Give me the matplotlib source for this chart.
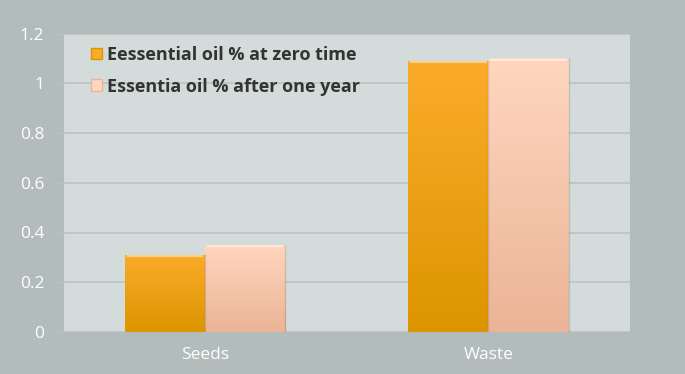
import numpy as np
import matplotlib
matplotlib.use('Agg')
import matplotlib.pyplot as plt
from matplotlib.colors import LinearSegmentedColormap
from matplotlib.patches import Patch

# ── Data ──────────────────────────────────────────────────────────────────────
categories = ["Seeds", "Waste"]
zero_time  = [0.31, 1.09]
one_year   = [0.35, 1.10]
series_names = ["Eessential oil % at zero time", "Essentia oil % after one year"]
yticks = [0, 0.2, 0.4, 0.6, 0.8, 1, 1.2]

OUTER_BG = "#b1bcbb"
PLOT_BG  = "#d3dcdb"
GRID     = "#b8c3c2"
ORANGE   = ("#dc9500", "#fbab2a")   # bottom, top
PEACH    = ("#ebb496", "#ffd6bf")
BAR_W    = 0.283

plt.rcParams['font.family'] = ['Open Sans', 'DejaVu Sans']

fig = plt.figure(figsize=(6.85, 3.74), dpi=100, facecolor=OUTER_BG)
ax = fig.add_axes([63.5 / 685, 1 - 332 / 374, (630 - 63.5) / 685, (332 - 33.5) / 374])
ax.set_facecolor(PLOT_BG)

x = np.arange(len(categories))


def gradient_bars(xpos, heights, colors):
    cmap = LinearSegmentedColormap.from_list("g", list(colors))
    grad = np.linspace(0, 1, 256).reshape(-1, 1)
    bars = ax.bar(xpos, heights, BAR_W, color=colors[1], edgecolor="none", zorder=2)
    for b in bars:
        x0, w, h = b.get_x(), b.get_width(), b.get_height()
        im = ax.imshow(grad, cmap=cmap, origin="lower", aspect="auto",
                       extent=[x0, x0 + w, 0, h], zorder=3)
        im.set_clip_path(b)
        # thin top highlight (bevel) and darker side edges
        ax.plot([x0 + 0.01, x0 + w - 0.01], [h - 0.006, h - 0.006],
                color="white", alpha=0.45, lw=1.5, zorder=4)
        ax.plot([x0 + w, x0 + w], [0, h], color="black", alpha=0.12, lw=1, zorder=4)
    return bars


gradient_bars(x - BAR_W / 2, zero_time, ORANGE)
gradient_bars(x + BAR_W / 2, one_year, PEACH)

ax.set_xlim(-0.5, 1.5)
ax.set_ylim(0, 1.2)
ax.set_yticks(yticks)
ax.set_yticklabels([f"{v:g}" for v in yticks])
ax.set_xticks(x)
ax.set_xticklabels(categories)
ax.yaxis.grid(True, color=GRID, lw=1.2, zorder=1)
ax.set_axisbelow(True)
for s in ax.spines.values():
    s.set_visible(False)
ax.tick_params(axis='y', colors=GRID, labelcolor="white", labelsize=12.5,
               length=4.3, width=1, pad=9.5)
ax.tick_params(axis='x', length=0, labelcolor="white", labelsize=12.5, pad=11)

handles = [Patch(facecolor=ORANGE[1], edgecolor=ORANGE[0]),
           Patch(facecolor=PEACH[1], edgecolor=PEACH[0])]
leg = ax.legend(handles, series_names, loc="upper left", bbox_to_anchor=(0.02, 1.013),
                frameon=False, handlelength=0.6, handleheight=0.6, handletextpad=0.3,
                labelspacing=0.76, prop={'family': ['Open Sans', 'DejaVu Sans'],
                                         'weight': 'bold', 'size': 13})
for t in leg.get_texts():
    t.set_color("#333333")

fig.savefig("out.png", dpi=100, facecolor=OUTER_BG)
